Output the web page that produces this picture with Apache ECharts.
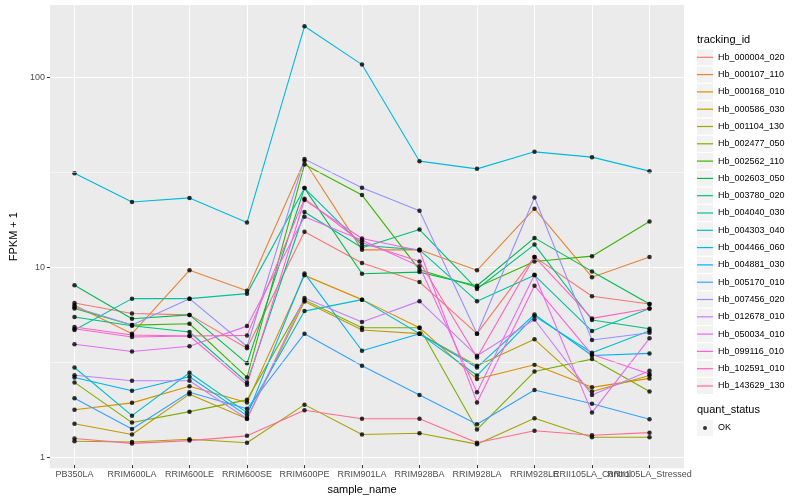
<!DOCTYPE html>
<html>
<head>
<meta charset="utf-8">
<script src="https://cdn.jsdelivr.net/npm/echarts@6/dist/echarts.min.js"></script>
<style>html,body{margin:0;padding:0;background:#fff}#c{width:800px;height:500px}</style>
</head>
<body>
<div id="c"></div>
<script>
const samples = ['PB350LA','RRIM600LA','RRIM600LE','RRIM600SE','RRIM600PE','RRIM901LA','RRIM928BA','RRIM928LA','RRIM928LE','RRII105LA_Control','RRII105LA_Stressed'];
const trackingIds = ['Hb_000004_020','Hb_000107_110','Hb_000168_010','Hb_000586_030','Hb_001104_130','Hb_002477_050','Hb_002562_110','Hb_002603_050','Hb_003780_020','Hb_004040_030','Hb_004303_040','Hb_004466_060','Hb_004881_030','Hb_005170_010','Hb_007456_020','Hb_012678_010','Hb_050034_010','Hb_099116_010','Hb_102591_010','Hb_143629_130'];
const colors = ['#F8766D','#EA8331','#D89000','#C09B00','#A3A500','#7CAE00','#39B600','#00BB4E','#00BF7D','#00C1A3','#00BFC4','#00BAE0','#00B0F6','#35A2FF','#9590FF','#C77CFF','#E76BF3','#FA62DB','#FF62BC','#FF6C90'];

// FPKM + 1 per sample (same order as samples)
const hb000004_020 = [6.33, 5.56, 5.47, 3.64, 15.1, 10.3, 8.17, 4.35, 11.1, 6.87, 6.25];
const hb000107_110 = [6.16, 4.35, 9.42, 7.35, 35.9, 12.1, 12.1, 9.42, 20.0, 8.67, 11.1];
const hb000168_010 = [1.72, 1.87, 2.29, 1.88, 8.86, 6.59, 4.68, 2.50, 2.98, 2.26, 2.52];
const hb000586_030 = [1.45, 1.27, 2.08, 1.54, 6.45, 4.55, 4.35, 2.94, 4.06, 2.15, 2.61];
const hb001104_130 = [1.17, 1.16, 1.20, 1.15, 1.83, 1.27, 1.29, 1.13, 1.55, 1.23, 1.23];
const hb002477_050 = [2.40, 1.47, 1.68, 1.94, 6.57, 4.68, 4.68, 1.35, 2.74, 3.19, 2.15];
const hb002562_110 = [5.91, 4.83, 4.91, 2.55, 34.3, 23.6, 9.48, 7.66, 10.5, 11.2, 17.1];
const hb002603_050 = [7.85, 5.22, 5.47, 3.03, 25.7, 9.03, 9.22, 7.81, 14.0, 9.30, 6.25];
const hb003780_020 = [5.33, 4.79, 4.44, 2.40, 19.2, 12.4, 15.5, 7.50, 12.9, 5.14, 4.62];
const hb004040_030 = [4.55, 6.67, 6.67, 7.09, 25.7, 12.8, 12.1, 6.47, 8.86, 4.49, 5.91];
const hb004303_040 = [2.88, 1.60, 2.70, 1.66, 5.73, 6.59, 4.35, 2.61, 5.39, 3.45, 4.51];
const hb004466_060 = [30.8, 21.7, 22.8, 16.9, 185, 116, 35.7, 32.5, 40.0, 37.5, 31.6];
const hb004881_030 = [2.55, 2.17, 2.57, 1.60, 9.07, 3.53, 4.35, 2.88, 5.50, 3.33, 3.42];
const hb005170_010 = [1.98, 1.36, 2.13, 1.74, 4.35, 2.94, 2.06, 1.44, 2.19, 1.85, 1.53];
const hb007456_020 = [6.01, 4.83, 6.67, 3.72, 36.6, 25.8, 19.5, 4.35, 22.9, 4.03, 4.40];
const hb012678_010 = [2.62, 2.45, 2.45, 1.54, 6.73, 5.01, 6.47, 3.32, 5.17, 2.06, 2.77];
const hb050034_010 = [3.82, 3.50, 3.73, 4.77, 18.1, 13.6, 9.91, 2.13, 8.93, 1.66, 4.11];
const hb099116_010 = [4.62, 4.18, 4.23, 2.33, 22.2, 13.9, 12.0, 1.88, 7.81, 3.37, 2.66];
const hb102591_010 = [4.72, 4.28, 4.23, 4.26, 22.6, 13.2, 10.5, 3.25, 11.1, 5.24, 5.91];
const hb143629_130 = [1.21, 1.14, 1.18, 1.25, 1.71, 1.54, 1.54, 1.15, 1.33, 1.26, 1.30];

const seriesValues = [hb000004_020, hb000107_110, hb000168_010, hb000586_030, hb001104_130, hb002477_050, hb002562_110, hb002603_050, hb003780_020, hb004040_030, hb004303_040, hb004466_060, hb004881_030, hb005170_010, hb007456_020, hb012678_010, hb050034_010, hb099116_010, hb102591_010, hb143629_130];

const yTicks = [1, 10, 100];
const minorBreaks = [3.1623, 31.623];
const statusLabels = ['OK'];

const FONT = '"Liberation Sans", Arial, sans-serif';
const Y_MIN = 0.875, Y_MAX = 240;

const chart = echarts.init(document.getElementById('c'), null, {renderer: 'canvas'});

const lineSeries = trackingIds.map((id, i) => ({
  name: id, type: 'line', xAxisIndex: 1, yAxisIndex: 1,
  data: seriesValues[i], showSymbol: false, silent: true, z: 2,
  lineStyle: {width: 1.1, color: colors[i]}, itemStyle: {color: colors[i]},
  emphasis: {disabled: true}
}));
const pts = [];
seriesValues.forEach(arr => arr.forEach((v, j) => pts.push([j, v])));

const option = {
  animation: false,
  color: colors,
  textStyle: {fontFamily: FONT},
  title: [
    {text: 'tracking_id', left: 697, top: 34, padding: 0, textStyle: {fontSize: 11, fontWeight: 'normal', color: '#000', fontFamily: FONT}},
    {text: 'quant_status', left: 697, top: 404, padding: 0, textStyle: {fontSize: 11, fontWeight: 'normal', color: '#000', fontFamily: FONT}}
  ],
  legend: [
    {orient: 'vertical', left: 697, top: 49.3, padding: 0, itemWidth: 16, itemHeight: 16, itemGap: 1.3, icon: 'rect', selectedMode: false,
     itemStyle: {color: '#F2F2F2', borderWidth: 0}, textStyle: {fontSize: 9, color: '#000', lineHeight: 16, fontFamily: FONT}, data: trackingIds},
    {orient: 'vertical', left: 697, top: 49.3, padding: 0, itemWidth: 16, itemHeight: 1.2, itemGap: 1.3, icon: 'rect', selectedMode: false, z: 5,
     textStyle: {fontSize: 9, color: 'rgba(0,0,0,0)', lineHeight: 16, fontFamily: FONT}, data: trackingIds},
    {orient: 'vertical', left: 697, top: 420, padding: 0, itemWidth: 16, itemHeight: 16, icon: 'rect', selectedMode: false,
     itemStyle: {color: '#F2F2F2', borderWidth: 0}, textStyle: {fontSize: 9, color: '#000', lineHeight: 16, fontFamily: FONT}, data: statusLabels},
    {orient: 'vertical', left: 703, top: 426, padding: 0, itemWidth: 4, itemHeight: 4, icon: 'circle', selectedMode: false, z: 5,
     textStyle: {fontSize: 4, color: 'rgba(0,0,0,0)', lineHeight: 4}, data: statusLabels}
  ],
  grid: [
    {left: 40, top: 5, width: 644, height: 463.3, show: true, backgroundColor: '#EBEBEB', borderWidth: 0, containLabel: false},
    {left: 74.5, top: 5, width: 575, height: 463.3, show: false, containLabel: false}
  ],
  xAxis: [
    {type: 'value', gridIndex: 0, min: 0, max: 1, show: false},
    {type: 'category', gridIndex: 1, data: samples, boundaryGap: false,
     name: 'sample_name', nameLocation: 'middle', nameGap: 17,
     nameTextStyle: {fontSize: 11, color: '#000', fontFamily: FONT},
     axisLine: {show: false},
     axisTick: {show: true, length: 3, lineStyle: {color: '#333333', width: 1}},
     axisLabel: {interval: 0, fontSize: 9, color: '#4D4D4D', margin: 5, fontFamily: FONT},
     splitLine: {show: true, lineStyle: {color: '#FFFFFF', width: 1.1}}}
  ],
  yAxis: [
    {type: 'log', logBase: 10, gridIndex: 0, min: Y_MIN, max: Y_MAX,
     name: 'FPKM + 1', nameLocation: 'middle', nameGap: 22, nameRotate: 90,
     nameTextStyle: {fontSize: 11, color: '#000', fontFamily: FONT},
     axisLine: {show: false},
     axisTick: {show: true, length: 3, customValues: yTicks, lineStyle: {color: '#333333', width: 1}},
     axisLabel: {fontSize: 9, color: '#4D4D4D', margin: 5, customValues: yTicks, fontFamily: FONT,
                 formatter: v => String(Math.round(v))},
     splitLine: {show: true, lineStyle: {color: '#FFFFFF', width: 1.1}}},
    {type: 'log', logBase: 10, gridIndex: 1, min: Y_MIN, max: Y_MAX, show: false, splitLine: {show: false}}
  ],
  series: [
    {name: '_minor', type: 'line', xAxisIndex: 0, yAxisIndex: 0, data: [], z: 1, silent: true, color: '#fff',
     markLine: {silent: true, symbol: ['none', 'none'], label: {show: false}, animation: false,
                lineStyle: {color: '#FFFFFF', width: 0.55, type: 'solid'},
                emphasis: {disabled: true},
                data: minorBreaks.map(v => ({yAxis: v}))}},
    ...lineSeries,
    {name: 'OK', type: 'scatter', xAxisIndex: 1, yAxisIndex: 1, data: pts, symbol: 'circle', symbolSize: 4.5,
     itemStyle: {color: '#000000'}, z: 3, silent: true, emphasis: {disabled: true}}
  ]
};
chart.setOption(option);
</script>
</body>
</html>
